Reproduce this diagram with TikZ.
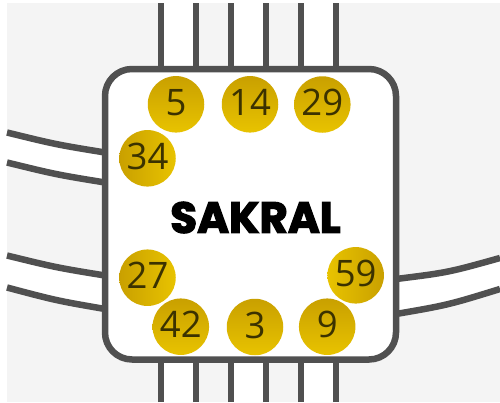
\documentclass[tikz,border=0pt]{standalone}
\usepackage{fontspec}
\setmainfont{Open Sans}
\newfontfamily\titlefont{Poppins}[BoldFeatures={FakeBold=3}]
\definecolor{bg}{HTML}{F4F4F4}
\definecolor{ln}{HTML}{505050}
\definecolor{golddark}{HTML}{C9A000}
\definecolor{goldlight}{HTML}{E8C300}
\definecolor{numtext}{HTML}{3B3200}
\begin{document}
\begin{tikzpicture}[x=1pt,y=-1pt,
  chan/.style={draw=ln,line width=6.5pt},
  gate/.style={circle,minimum size=56.5pt,inner sep=0pt,text=numtext,font=\fontsize{36.5}{36.5}\selectfont},
  gv/.style={gate,top color=golddark,bottom color=goldlight},
  gh/.style={gate,left color=golddark,right color=goldlight},
  ghr/.style={gate,left color=goldlight,right color=golddark},
  centre/.style={draw=ln,line width=6.5pt,fill=white,rounded corners=27pt,
    minimum width=291pt,minimum height=290.5pt,inner sep=0pt},
  title/.style={font=\titlefont\bfseries\fontsize{43.5}{43.5}\selectfont,text=black}]
\useasboundingbox (0,0) rectangle (500,402);
\fill[white] (0,0) rectangle (500,402);
\fill[bg] (7,3) rectangle (500,402);
% the centre box (named first, drawn later on top)
\path (250.5,214.25) node[minimum width=291pt,minimum height=290.5pt,inner sep=0pt] (box) {};
% vertical channels
\foreach \a/\b in {161/196,231/266,301/336}{
  \fill[white] (\a,3) rectangle (\b,69);
  \fill[white] (\a,359) rectangle (\b,402);
}
\foreach \x in {161,196,231,266,301,336}{
  \coordinate (t\x) at (\x,3);
  \coordinate (b\x) at (\x,402);
  \draw[chan] (t\x) -- (t\x |- box.north);
  \draw[chan] (b\x) -- (b\x |- box.south);
}
% curved channels
\coordinate (a1) at (7,132.5);  \coordinate (e1) at (105,152.5);
\coordinate (a2) at (7,162.5);  \coordinate (e2) at (105,182.5);
\coordinate (a3) at (7,255.5);  \coordinate (e3) at (105,275.5);
\coordinate (a4) at (7,287.5);  \coordinate (e4) at (105,309);
\coordinate (a5) at (500,258);  \coordinate (e5) at (396,279);
\coordinate (a6) at (500,289);  \coordinate (e6) at (396,314);
\fill[white] (a1) .. controls (56,144.5) .. (e1) -- (e2) .. controls (56,174.5) .. (a2) -- cycle;
\fill[white] (a3) .. controls (56,267.5) .. (e3) -- (e4) .. controls (56,300.5) .. (a4) -- cycle;
\fill[white] (a5) .. controls (448,272.5) .. (e5) -- (e6) .. controls (448,305) .. (a6) -- cycle;
\draw[chan] (a1) .. controls (56,144.5) .. (e1);
\draw[chan] (a2) .. controls (56,174.5) .. (e2);
\draw[chan] (a3) .. controls (56,267.5) .. (e3);
\draw[chan] (a4) .. controls (56,300.5) .. (e4);
\draw[chan] (a5) .. controls (448,272.5) .. (e5);
\draw[chan] (a6) .. controls (448,305) .. (e6);
\node[centre] (sakral) at (box.center) {};
\node[title] (name) at (255.5,217.5) {SAKRAL};
% gates
\node[gv] (g5)  at (176,104.3) {\raisebox{4pt}{5}};
\node[gv] (g14) at (250,104.3) {\raisebox{4pt}{14}};
\node[gv] (g29) at (322.3,104.5) {\raisebox{4pt}{29}};
\node[gh] (g34) at (147.5,158.3) {\raisebox{4pt}{34}};
\node[gh] (g27) at (147.5,277.7) {\raisebox{4pt}{27}};
\node[ghr] (g59) at (355.7,275.3) {\raisebox{4pt}{59}};
\node[gv] (g42) at (180.8,326.7) {\raisebox{4pt}{42}};
\node[gv] (g3)  at (255,327) {\raisebox{4pt}{3}};
\node[gv] (g9)  at (327.2,326.7) {\raisebox{4pt}{9}};
\end{tikzpicture}
\end{document}
